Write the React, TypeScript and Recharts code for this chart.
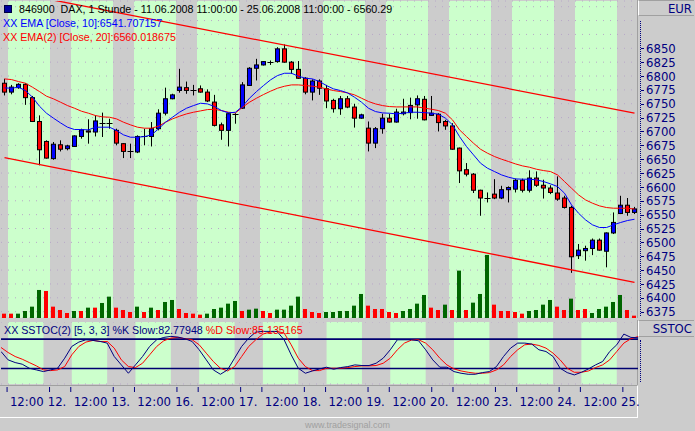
import React from "react";
import { ComposedChart, Bar, Line, XAxis, YAxis, CartesianGrid, ReferenceArea, ReferenceLine } from "recharts";

// trading days shown, hourly bars 9:00 - 17:00 (first day from 11:00, last day to 11:00)
const dayLabels = ["11.", "12.", "13.", "16.", "17.", "18.", "19.", "20.", "23.", "24.", "25."];
const sessionHours = [9, 10, 11, 12, 13, 14, 15, 16, 17];
const firstBarHour = 11;
const lastBarHour = 11;

const opens = [
  6787, 6771, 6779, 6785, 6761, 6718, 6682, 6651, 6676, 6669,
  6673, 6691, 6701, 6699, 6716, 6715, 6702, 6678, 6664, 6663,
  6691, 6691, 6705, 6733, 6759, 6774, 6779, 6775, 6777, 6771,
  6753, 6712, 6702, 6732, 6742, 6783, 6814, 6820, 6826, 6826,
  6849, 6825, 6812, 6796, 6771, 6791, 6777, 6756, 6741, 6759,
  6744, 6724, 6706, 6679, 6705, 6724, 6717, 6732, 6734, 6748,
  6758, 6729, 6731, 6718, 6710, 6670, 6631, 6623, 6594, 6580,
  6587, 6580, 6595, 6596, 6612, 6594, 6616, 6603, 6598, 6589,
  6580, 6563, 6476, 6485, 6489, 6504, 6484, 6517, 6552, 6567,
  6554,
];
const highs = [
  6795, 6784, 6787, 6787, 6764, 6729, 6684, 6681, 6684, 6676,
  6693, 6705, 6722, 6729, 6734, 6723, 6705, 6679, 6678, 6693,
  6705, 6717, 6740, 6779, 6768, 6813, 6790, 6784, 6783, 6776,
  6766, 6716, 6734, 6733, 6789, 6816, 6831, 6827, 6828, 6852,
  6857, 6827, 6827, 6798, 6794, 6794, 6784, 6759, 6764, 6764,
  6750, 6732, 6718, 6708, 6732, 6732, 6741, 6759, 6761, 6765,
  6764, 6764, 6733, 6721, 6715, 6671, 6643, 6625, 6595, 6590,
  6614, 6602, 6601, 6615, 6615, 6630, 6628, 6613, 6603, 6619,
  6584, 6566, 6497, 6494, 6507, 6507, 6518, 6554, 6584, 6580,
  6564,
];
const lows = [
  6765, 6767, 6777, 6748, 6717, 6639, 6651, 6649, 6664, 6666,
  6672, 6687, 6678, 6691, 6690, 6705, 6675, 6652, 6652, 6661,
  6675, 6673, 6702, 6729, 6758, 6770, 6768, 6765, 6770, 6753,
  6709, 6685, 6673, 6714, 6741, 6782, 6792, 6819, 6820, 6824,
  6824, 6804, 6795, 6767, 6756, 6766, 6742, 6734, 6730, 6742,
  6707, 6723, 6664, 6670, 6696, 6716, 6716, 6729, 6722, 6723,
  6720, 6728, 6700, 6703, 6667, 6607, 6619, 6589, 6548, 6572,
  6578, 6578, 6572, 6590, 6590, 6590, 6600, 6579, 6587, 6575,
  6561, 6445, 6470, 6467, 6477, 6485, 6455, 6515, 6551, 6548,
  6551,
];
const closes = [
  6771, 6780, 6785, 6761, 6718, 6667, 6652, 6677, 6668, 6674,
  6692, 6703, 6699, 6719, 6716, 6715, 6679, 6664, 6664, 6691,
  6691, 6705, 6733, 6759, 6766, 6780, 6774, 6775, 6771, 6755,
  6711, 6702, 6732, 6732, 6784, 6814, 6820, 6826, 6826, 6849,
  6825, 6812, 6796, 6771, 6791, 6778, 6755, 6741, 6759, 6744,
  6724, 6730, 6679, 6705, 6724, 6717, 6735, 6735, 6747, 6759,
  6721, 6733, 6716, 6710, 6668, 6629, 6623, 6594, 6580, 6580,
  6580, 6595, 6599, 6612, 6594, 6616, 6603, 6598, 6590, 6578,
  6563, 6474, 6486, 6489, 6504, 6486, 6517, 6536, 6567, 6554,
  6560.29,
];

const ema10 = [
  6778.6, 6778.0, 6779.8, 6773.8, 6761.8, 6745.5, 6732.9, 6723.9, 6715.5, 6707.7,
  6703.5, 6703.5, 6702.9, 6707.7, 6707.7, 6707.7, 6701.7, 6693.9, 6689.6, 6689.6,
  6690.8, 6693.9, 6704.7, 6716.7, 6725.7, 6734.7, 6741.9, 6746.7, 6750.9, 6749.7,
  6745.0, 6737.7, 6733.5, 6734.7, 6745.5, 6760.0, 6772.0, 6782.8, 6793.0, 6800.8,
  6805.0, 6805.0, 6799.6, 6796.0, 6794.8, 6790.0, 6782.8, 6776.8, 6773.8, 6769.6,
  6761.8, 6752.8, 6741.9, 6735.9, 6733.5, 6732.9, 6731.7, 6732.9, 6734.7, 6734.7,
  6734.0, 6732.9, 6731.1, 6723.9, 6711.9, 6690.8, 6672.8, 6657.8, 6642.8, 6633.7,
  6627.7, 6621.7, 6617.5, 6614.5, 6613.9, 6613.9, 6612.7, 6609.7, 6605.5, 6600.7,
  6588.7, 6567.6, 6552.6, 6540.6, 6531.6, 6526.8, 6526.8, 6531.6, 6535.8, 6539.4,
  6541.7,
];
const ema20 = [
  6794.8, 6793.6, 6790.0, 6787.0, 6779.8, 6772.0, 6763.6, 6758.8, 6752.8, 6746.7,
  6741.9, 6736.5, 6732.9, 6728.7, 6726.3, 6725.7, 6722.7, 6716.7, 6711.9, 6707.7,
  6705.9, 6705.9, 6709.5, 6716.7, 6722.7, 6727.5, 6731.7, 6734.7, 6737.1, 6739.5,
  6740.0, 6737.7, 6734.7, 6733.5, 6743.7, 6752.8, 6760.0, 6766.6, 6772.6, 6778.0,
  6781.6, 6784.0, 6784.0, 6782.8, 6781.6, 6779.8, 6776.8, 6773.8, 6772.0, 6769.6,
  6766.0, 6760.0, 6754.0, 6749.7, 6746.7, 6744.9, 6744.3, 6744.3, 6744.3, 6744.3,
  6742.0, 6740.1, 6737.7, 6732.9, 6720.9, 6702.9, 6690.8, 6678.8, 6668.0, 6660.8,
  6654.8, 6650.0, 6645.8, 6641.5, 6637.9, 6635.5, 6631.9, 6629.5, 6627.7, 6621.7,
  6609.7, 6597.7, 6585.7, 6576.6, 6570.6, 6565.8, 6562.8, 6561.6, 6561.6, 6561.6,
  6560.0,
];

const volumes = [
  13, 13, 13, 21, 34, 84, 81, 34, 24, 15,
  21, 21, 31, 31, 45, 64, 31, 24, 18, 34,
  18, 31, 24, 48, 54, 27, 15, 13, 10, 13,
  27, 31, 43, 51, 21, 25, 28, 21, 15, 25,
  25, 37, 64, 27, 18, 15, 18, 18, 21, 21,
  37, 72, 37, 27, 27, 18, 15, 21, 27, 43,
  69, 31, 24, 40, 24, 142, 24, 46, 72, 189,
  40, 21, 21, 18, 13, 21, 24, 40, 54, 34,
  24, 58, 24, 27, 15, 27, 34, 48, 69, 24,
  7,
];
// 1 = green volume bar, 0 = red
const volumeUp = [
  0, 0, 1, 1, 1, 1, 0, 0, 0, 0,
  1, 0, 1, 0, 1, 1, 0, 0, 0, 1,
  0, 1, 0, 1, 1, 0, 0, 0, 0, 1,
  1, 1, 1, 1, 0, 1, 1, 0, 0, 1,
  1, 1, 1, 0, 0, 0, 1, 1, 1, 1,
  1, 1, 0, 0, 0, 0, 0, 1, 1, 1,
  1, 0, 0, 1, 0, 1, 0, 1, 1, 1,
  0, 0, 0, 0, 0, 1, 1, 1, 1, 0,
  0, 1, 0, 0, 1, 1, 1, 1, 1, 0,
  0,
];

const stochK = [
  54.7, 37.7, 32.2, 28.8, 20.6, 17.2, 13.8, 17.2, 20.6, 41.1,
  65.0, 73.9, 78.6, 77.3, 75.2, 71.8, 44.5, 27.4, 10.4, 27.4,
  44.5, 65.0, 78.6, 83.4, 85.5, 84.1, 80.7, 75.2, 58.2, 37.7,
  17.2, 8.3, 17.2, 41.1, 65.0, 82.0, 94.3, 95.7, 95.7, 95.7,
  78.6, 47.9, 20.6, 10.4, 15.1, 19.2, 22.7, 18.6, 22.0, 24.0,
  27.4, 26.1, 26.1, 30.8, 41.1, 58.2, 78.6, 78.6, 78.6, 76.6,
  58.2, 37.7, 22.7, 22.7, 13.8, 10.4, 8.3, 8.3, 11.7, 13.8,
  24.0, 44.5, 61.6, 71.8, 71.8, 69.8, 58.2, 54.7, 44.5, 20.6,
  11.7, 7.0, 12.4, 19.2, 27.4, 34.3, 54.7, 68.4, 90.2, 83.4,
  82.78,
];
const stochD = [
  62.9, 52.7, 44.5, 39.0, 32.2, 25.4, 17.2, 15.8, 17.2, 24.0,
  47.9, 65.0, 73.9, 77.3, 75.2, 75.2, 61.6, 37.7, 24.0, 22.0,
  30.8, 47.9, 65.0, 76.6, 82.0, 83.4, 80.7, 78.6, 68.4, 51.3,
  34.3, 20.6, 15.1, 24.0, 44.5, 65.0, 78.6, 90.2, 94.3, 95.7,
  92.3, 68.4, 41.1, 24.0, 15.8, 15.8, 20.6, 20.6, 20.6, 22.0,
  24.0, 25.4, 25.4, 26.1, 30.8, 41.1, 58.2, 71.8, 78.0, 78.6,
  71.8, 58.2, 41.1, 27.4, 19.2, 15.1, 12.4, 10.4, 10.4, 11.7,
  17.2, 27.4, 44.5, 58.2, 68.4, 69.8, 67.0, 61.6, 51.3, 37.7,
  20.6, 12.4, 12.4, 15.1, 22.0, 27.4, 37.7, 54.7, 71.8, 80.7,
  85.14,
];

// trend channel, value at first and last bar
const upperChannel = [6954, 6733];
const lowerChannel = [6653, 6428];

const priceTicks = [6375, 6400, 6425, 6450, 6475, 6500, 6525, 6550, 6575, 6600, 6625, 6650, 6675,
  6700, 6725, 6750, 6775, 6800, 6825, 6850, 6875, 6900, 6925];
const priceLabelMax = 6850;
const stochGrid = [-4, 50, 104];
const stochBands = [80, 20];

const GRAY = "#cccccc";
const GREEN = "#ccffcc";
const NAVY = "#000080";
const AXIS_FONT = "'Liberation Sans Narrow', 'Arial Narrow', 'DejaVu Sans Condensed', sans-serif";
const TEXT_FONT = "'Liberation Sans', Arial, sans-serif";
const TEXT_SIZE = 10.7;

const barTimes = dayLabels.flatMap((day, k) =>
  sessionHours
    .filter((h) => (k > 0 || h >= firstBarHour) && (k < dayLabels.length - 1 || h <= lastBarHour))
    .map((hour) => ({ day, hour }))
);
const last = barTimes.length - 1;

const rows = barTimes.map((t, i) => ({
  idx: i,
  day: t.day,
  hour: t.hour,
  open: opens[i],
  high: highs[i],
  low: lows[i],
  close: closes[i],
  ema10: ema10[i],
  ema20: ema20[i],
  vol: volumes[i],
  volUp: volumeUp[i] === 1,
  k: stochK[i],
  d: stochD[i],
  upper: i === 0 ? upperChannel[0] : i === last ? upperChannel[1] : null,
  lower: i === 0 ? lowerChannel[0] : i === last ? lowerChannel[1] : null,
}));

const timeTicks = rows.filter((r) => r.hour === 12 || r.hour === 9).map((r) => r.idx);

const greenAreas = dayLabels
  .map((day) => rows.filter((r) => r.day === day && r.hour >= 12).map((r) => r.idx))
  .filter((ids) => ids.length > 0)
  .map((ids) => [ids[0], ids[ids.length - 1]]);

function Candle(props: any) {
  const { x, y, width, height, payload } = props;
  if (x == null || payload == null) return null;
  const top = Math.min(y, y + height);
  const h = Math.abs(height);
  const range = payload.high - payload.low;
  const k = range > 0 ? h / range : 0;
  const yOf = (v: number) => top + (payload.high - v) * k;
  const cx = Math.floor(x + width / 2) + 0.5;
  const yo = yOf(payload.open);
  const yc = yOf(payload.close);
  const up = payload.close > payload.open;
  const flat = Math.abs(yo - yc) < 1;
  return (
    <g>
      <line x1={cx} x2={cx} y1={top} y2={top + h} stroke="#000" strokeWidth={1} />
      {flat ? (
        <line x1={cx - 3} x2={cx + 3} y1={Math.round(yo) + 0.5} y2={Math.round(yo) + 0.5} stroke="#000" />
      ) : (
        <rect
          x={cx - 2}
          y={Math.min(yo, yc)}
          width={4}
          height={Math.abs(yo - yc)}
          fill={up ? "#0000ff" : "#ff0000"}
          stroke="#000"
          strokeWidth={1}
        />
      )}
    </g>
  );
}

function VolumeBar(props: any) {
  const { x, y, width, height, payload } = props;
  if (x == null || payload == null) return null;
  return (
    <rect
      x={Math.floor(x + width / 2) - 3}
      y={y}
      width={4}
      height={height}
      fill={payload.volUp ? "#006600" : "#ff0000"}
    />
  );
}

function PriceTick(props: any) {
  const { x, y, payload } = props;
  if (payload.value > priceLabelMax) return null;
  const yy = Math.round(y) + 0.5;
  return (
    <g>
      <line x1={x + 3} x2={x + 6} y1={yy} y2={yy} stroke={NAVY} />
      <text x={x + 8} y={y} dy={4.6} fill={NAVY} fontSize={13} fontFamily={AXIS_FONT} textAnchor="start">
        {payload.value}
      </text>
    </g>
  );
}

function TimeTick(props: any) {
  const { x, y, payload } = props;
  const row = rows[payload.value];
  if (!row) return null;
  const isDay = row.hour === 9;
  const tx = x - 1;
  return (
    <g>
      <line x1={tx} x2={tx} y1={y + 3} y2={y + 8} stroke={NAVY} />
      <text x={tx + (isDay ? 7.5 : 19.7)} y={y + 22} fill={NAVY} fontSize={13} fontFamily={AXIS_FONT} textAnchor="middle">
        {isDay ? row.day : "12:00"}
      </text>
    </g>
  );
}

export default function App() {
  return (
    <div
      style={{
        position: "absolute",
        left: 0,
        top: 0,
        width: 695,
        height: 431,
        overflow: "hidden",
        background: GRAY,
        fontFamily: TEXT_FONT,
      }}
    >
      {/* right scale frames */}
      <div style={{ position: "absolute", left: 637, top: 0, width: 58, height: 318, borderLeft: "1px solid #a0a0a0", boxSizing: "border-box" }} />
      <div
        style={{
          position: "absolute", left: 638, top: 0, width: 56, height: 16, boxSizing: "border-box",
          borderTop: "1px solid #a0a0a0", borderBottom: "1px solid #a0a0a0", borderLeft: "1px solid #ffffff",
          color: NAVY, fontFamily: AXIS_FONT, fontSize: 13, lineHeight: "15px", textAlign: "right", paddingRight: 2,
        }}
      >
        EUR
      </div>
      <div style={{ position: "absolute", left: 640, top: 21, height: 295, borderLeft: `1px dotted ${NAVY}` }} />

      <div style={{ position: "absolute", left: 637, top: 320, width: 58, height: 65, borderLeft: "1px solid #a0a0a0", boxSizing: "border-box" }} />
      <div
        style={{
          position: "absolute", left: 638, top: 320, width: 56, height: 17, boxSizing: "border-box",
          borderTop: "1px solid #a0a0a0", borderBottom: "1px solid #a0a0a0", borderLeft: "1px solid #ffffff",
          color: NAVY, fontFamily: AXIS_FONT, fontSize: 13, lineHeight: "15px", textAlign: "right", paddingRight: 2,
        }}
      >
        SSTOC
      </div>
      <div style={{ position: "absolute", left: 640, top: 340, height: 42, borderLeft: `1px dotted ${NAVY}` }} />

      {/* time axis frame */}
      <div
        style={{
          position: "absolute", left: 0, top: 385, width: 638, height: 33, boxSizing: "border-box",
          borderTop: "1px solid #a0a0a0", borderRight: "1px solid #ffffff", borderBottom: "1px solid #ffffff",
        }}
      />

      {/* price panel */}
      <div style={{ position: "absolute", left: 1, top: 0 }}>
        <ComposedChart width={695} height={318} data={rows} margin={{ top: 1, right: 0, bottom: 0, left: 0 }}>
          <XAxis xAxisId="c" dataKey="idx" hide />
          <XAxis xAxisId="v" dataKey="idx" hide />
          <YAxis
            yAxisId="p"
            orientation="right"
            width={58}
            domain={[6363.6, 6935.3]}
            allowDataOverflow
            ticks={priceTicks}
            interval={0}
            tick={<PriceTick />}
            tickLine={false}
            axisLine={false}
            tickSize={0}
            tickMargin={0}
          />
          <YAxis yAxisId="vol" hide domain={[0, 950]} allowDataOverflow />
          {greenAreas.map(([a, b]) => (
            <ReferenceArea key={a} xAxisId="c" yAxisId="p" x1={a} x2={b} fill={GREEN} fillOpacity={1} stroke="none" zIndex={-150} />
          ))}
          <CartesianGrid xAxisId="c" yAxisId="p" vertical={false} stroke="#b8a8c8" strokeDasharray="1 6" />
          <Bar xAxisId="v" yAxisId="vol" dataKey="vol" barSize={4} shape={<VolumeBar />} isAnimationActive={false} />
          <Line xAxisId="c" yAxisId="p" dataKey="upper" stroke="#ff0000" strokeWidth={1.3} dot={false} activeDot={false} connectNulls isAnimationActive={false} />
          <Line xAxisId="c" yAxisId="p" dataKey="lower" stroke="#ff0000" strokeWidth={1.3} dot={false} activeDot={false} connectNulls isAnimationActive={false} />
          <Bar
            xAxisId="c"
            yAxisId="p"
            dataKey={(r: any) => [r.low, r.high]}
            barSize={5}
            shape={<Candle />}
            isAnimationActive={false}
          />
          <Line xAxisId="c" yAxisId="p" dataKey="ema20" stroke="#ff0000" strokeWidth={1} dot={false} activeDot={false} isAnimationActive={false} />
          <Line xAxisId="c" yAxisId="p" dataKey="ema10" stroke="#0000ff" strokeWidth={1} dot={false} activeDot={false} isAnimationActive={false} />
        </ComposedChart>
      </div>

      {/* stochastic panel + time axis */}
      <div style={{ position: "absolute", left: 1, top: 322 }}>
        <ComposedChart width={695} height={96} data={rows} margin={{ top: 0, right: 0, bottom: 0, left: 0 }}>
          <XAxis
            dataKey="idx"
            height={34}
            ticks={timeTicks}
            interval={0}
            tick={<TimeTick />}
            tickLine={false}
            axisLine={false}
            tickSize={0}
            tickMargin={0}
          />
          <YAxis
            orientation="right"
            width={58}
            domain={[-11.5, 114.8]}
            ticks={stochGrid}
            tick={false}
            tickLine={false}
            axisLine={false}
          />
          {greenAreas.map(([a, b]) => (
            <ReferenceArea key={a} x1={a} x2={b} fill={GREEN} fillOpacity={1} stroke="none" zIndex={-150} />
          ))}
          <CartesianGrid vertical={false} stroke="#b8a8c8" strokeDasharray="1 6" />
          {stochBands.map((v) => (
            <ReferenceLine key={v} y={v} stroke="#000070" strokeWidth={1.6} />
          ))}
          <Line dataKey="d" stroke="#ff0000" strokeWidth={1} dot={false} activeDot={false} isAnimationActive={false} />
          <Line dataKey="k" stroke="#000080" strokeWidth={1} dot={false} activeDot={false} isAnimationActive={false} />
        </ComposedChart>
      </div>

      {/* legends */}
      <div style={{ position: "absolute", left: 4, top: 3, fontSize: TEXT_SIZE, lineHeight: "13px", color: "#000", whiteSpace: "pre" }}>
        <span style={{ display: "inline-block", width: 6, height: 6, background: "#0000a0", border: "1px solid #000040", marginRight: 7, verticalAlign: "0px" }} />
        {"846900  DAX, 1 Stunde - 11.06.2008 11:00:00 - 25.06.2008 11:00:00 - 6560.29"}
      </div>
      <div style={{ position: "absolute", left: 3, top: 17, fontSize: TEXT_SIZE, lineHeight: "13px", color: "#0000ff", whiteSpace: "pre" }}>
        {"XX EMA [Close, 10]:6541.707157"}
      </div>
      <div style={{ position: "absolute", left: 3, top: 31, fontSize: TEXT_SIZE, lineHeight: "13px", color: "#ff0000", whiteSpace: "pre" }}>
        {"XX EMA(2) [Close, 20]:6560.018675"}
      </div>
      <div style={{ position: "absolute", left: 4, top: 324, fontSize: TEXT_SIZE, lineHeight: "13px", whiteSpace: "pre" }}>
        <span style={{ color: NAVY }}>{"XX SSTOC(2) [5, 3, 3] %K Slow:82.77948 "}</span>
        <span style={{ color: "#ff0000" }}>{"%D Slow:85.135165"}</span>
      </div>
      <div style={{ position: "absolute", left: 0, width: 695, top: 420, fontSize: 9, lineHeight: "11px", color: "#a0a0a0", textAlign: "center" }}>
        www.tradesignal.com
      </div>
    </div>
  );
}
